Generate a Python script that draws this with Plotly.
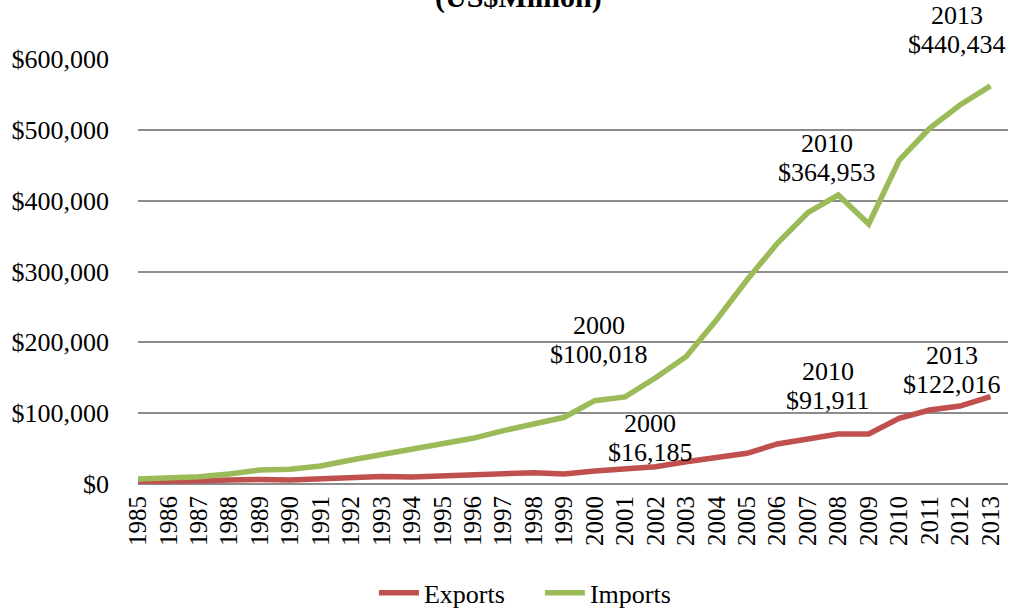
import plotly.graph_objects as go

years = [str(y) for y in range(1985, 2014)]
exports = [3500, 3500, 4500, 5500, 6500, 5500, 7500, 9000, 10500, 10000,
           12000, 13000, 14500, 16000, 14000, 18500, 20700, 24400, 31500, 37700,
           43300, 56500, 64500, 70600, 70600, 92700, 104500, 110000, 123200]
imports = [7000, 8000, 10300, 14100, 19800, 21000, 25400, 33900, 41900, 50400,
           58300, 64500, 75300, 85700, 94200, 117600, 123000, 150000, 179700, 231500,
           288000, 339800, 383000, 408000, 367000, 457000, 502000, 535000, 562000]

y_ticks = [0, 100000, 200000, 300000, 400000, 500000, 600000]
y_tick_text = ["$0", "$100,000", "$200,000", "$300,000", "$400,000", "$500,000", "$600,000"]
y_max = 600000

# callout labels: (year line, value line, x position (category index), y centre in data units)
label_years = ["2000", "2000", "2010", "2013", "2010", "2013"]
label_values = ["$100,018", "$16,185", "$91,911", "$122,016", "$364,953", "$440,434"]
label_x = [15.13, 16.83, 22.65, 26.75, 22.63, 26.9]
label_y = [203000, 65000, 138400, 161000, 460000, 641000]

title_text = "(US$Million)"

RED = "#C0504D"
GREEN = "#9BBB59"
FONT = "Liberation Serif, Times New Roman, serif"

fig = go.Figure()
fig.add_trace(go.Scatter(x=years, y=exports, name="Exports", mode="lines",
                         line=dict(color=RED, width=5.5)))
fig.add_trace(go.Scatter(x=years, y=imports, name="Imports", mode="lines",
                         line=dict(color=GREEN, width=5.5)))

# each label is two lines, ~29px apart; positioned in y-domain units (0..1 = 0..y_max)
plot_h = 425
half_gap = 14.5 / plot_h
for yr, val, xx, yy in zip(label_years, label_values, label_x, label_y):
    yc = yy / y_max
    fig.add_annotation(x=xx, y=yc + half_gap, xref="x", yref="y domain", text=yr,
                       showarrow=False, font=dict(family=FONT, size=26, color="black"),
                       xanchor="center", yanchor="middle")
    fig.add_annotation(x=xx, y=yc - half_gap, xref="x", yref="y domain", text=val,
                       showarrow=False, font=dict(family=FONT, size=26, color="black"),
                       xanchor="center", yanchor="middle")

fig.add_annotation(x=0.437, y=1.147, xref="paper", yref="paper", text="<b>" + title_text + "</b>",
                   showarrow=False, font=dict(family=FONT, size=30, color="black"),
                   xanchor="center", yanchor="middle")

fig.update_layout(
    width=1010, height=609,
    margin=dict(l=138, r=2, t=59, b=125, autoexpand=False),
    paper_bgcolor="white", plot_bgcolor="white",
    font=dict(family=FONT, size=26, color="black"),
    showlegend=True,
    legend=dict(orientation="h", x=0.462, y=-0.256, xanchor="center", yanchor="middle",
                font=dict(family=FONT, size=26, color="black"), itemwidth=40,
                entrywidth=111, entrywidthmode="pixels",
                bgcolor="rgba(0,0,0,0)"),
)
fig.update_xaxes(type="category", tickangle=-90, showgrid=False, showline=False,
                 ticks="", ticklabelstandoff=6, dtick=1, tickmode="linear",
                 tickfont=dict(family=FONT, size=25, color="black"))
fig.update_yaxes(range=[0, y_max], tickmode="array", tickvals=y_ticks, ticktext=y_tick_text,
                 showgrid=True, gridcolor="#8C8C8C", gridwidth=1.5,
                 zeroline=True, zerolinecolor="#8C8C8C", zerolinewidth=2,
                 showline=False, ticks="", ticklabelstandoff=28,
                 tickfont=dict(family=FONT, size=26, color="black"))

fig.write_html("out.html", config={"displayModeBar": False},
               post_script="document.body.style.margin='0';document.body.style.overflow='hidden';")
